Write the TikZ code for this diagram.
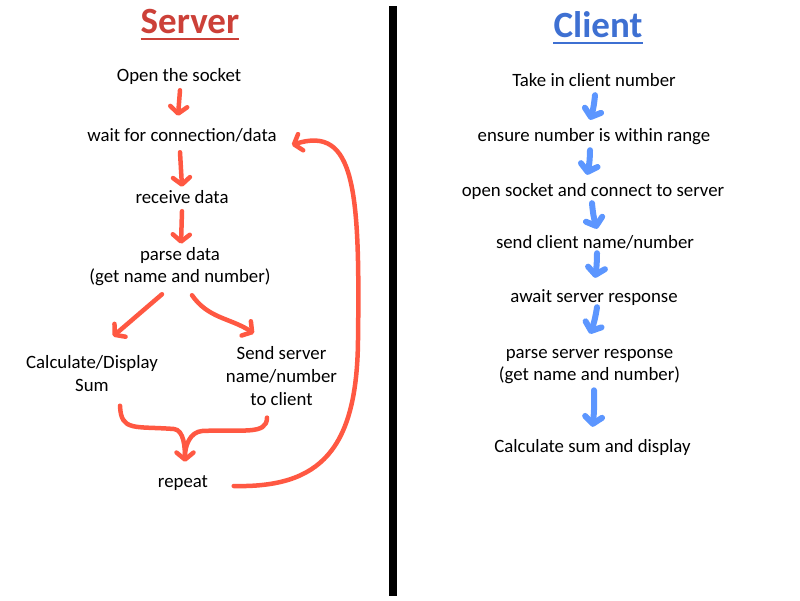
\documentclass[tikz,border=0pt]{standalone}
\usepackage{fontspec}
\setmainfont{Carlito}
\usepackage{tikz}
\usetikzlibrary{arrows.meta}
\usetikzlibrary{positioning}
\definecolor{srvred}{RGB}{204,64,56}
\definecolor{cliblue}{RGB}{62,112,210}
\definecolor{penred}{RGB}{255,88,66}
\definecolor{penblue}{RGB}{92,150,255}

\begin{document}
\begin{tikzpicture}[
            x = 1pt, y = -1pt, % pixel grid of the sheet
            line cap = round,
            line join = round,
            font = \fontsize{18.8}{22.8}\selectfont
        ]

        \tikzstyle{stepnode}=[
            inner sep = 2pt,
            text height = 12pt,
            text depth = 4pt
        ]
        \tikzstyle{multinode}=[
            inner sep = 2pt,
            align = center
        ]
        \tikzstyle{heading}=[
            inner sep = 0pt,
            anchor = base,
            font = \fontsize{37}{44}\selectfont\bfseries
        ]
        \tikzstyle{srvarrow}=[
            draw = penred,
            line width = 4.5pt,
            -{Straight Barb[length=7pt, width=17pt, round]}
        ]
        \tikzstyle{cliarrow}=[
            draw = penblue,
            line width = 6pt,
            -{Straight Barb[length=7pt, width=17pt, round]}
        ]

        \useasboundingbox (0,0) rectangle (800,600);

        % divider
        \draw[line width = 8pt, line cap = butt] (393,6) -- (393,596);

        % headings
        \node[heading, text = srvred] (ST) at (190,33) {Server};
        \draw[srvred, line width = 2.5pt, line cap = butt] ([yshift=-6pt]ST.base west) -- ([yshift=-6pt]ST.base east);
        \node[heading, text = cliblue] (CT) at (598,37) {Client};
        \draw[cliblue, line width = 2.5pt, line cap = butt] ([yshift=-6pt]CT.base west) -- ([yshift=-6pt]CT.base east);

        % server side
        \node[stepnode] (OS) at (179,77) {Open the socket};
        \node[stepnode] (W) [below of = OS, node distance = 60pt, xshift = 3pt] {wait for connection/data};
        \node[stepnode] (R) [below of = W, node distance = 62pt] {receive data};
        \node[multinode] (P) [below of = R, node distance = 67.5pt, xshift = -2pt] {parse data\\(get name and number)};
        \node[multinode] (CD) at (92,373.5) {Calculate/Display\\Sum};
        \node[multinode] (SS) at (281.5,376) {Send server\\name/number\\to client};
        \node[stepnode] (RP) at (183,483) {repeat};
        \coordinate (L) at (358,340);
        \coordinate (J) at (174,429);
        \coordinate (K) at (202,431);

        \draw[srvarrow] ([xshift=1pt,yshift=-3pt]OS.south) -- ([xshift=-4pt,yshift=11pt]W.north);
        \draw[srvarrow] ([xshift=-2pt,yshift=-5pt]W.south) -- ([yshift=2pt]R.north);
        \draw[srvarrow] ([yshift=-2pt]R.south) -- ([xshift=1pt,yshift=1pt]P.north);
        \draw[srvarrow] ([xshift=-18pt,yshift=-6pt]P.south) -- ([xshift=21pt,yshift=17pt]CD.north);
        \draw[srvarrow] ([xshift=12pt,yshift=-7pt]P.south) to[out=-55, in=147] ([xshift=-27.5pt,yshift=11pt]SS.north);
        \draw[srvarrow] ([xshift=28pt,yshift=-12pt]CD.south) .. controls +(1,26) and +(-40,-3) .. (J)
            .. controls +(10,1) and +(0,-14) .. ([xshift=2pt,yshift=11pt]RP.north);
        \draw[srvarrow, -, shorten > = 6pt] ([xshift=-14.5pt,yshift=-10pt]SS.south) .. controls +(0,18) and +(40,-2) .. (K)
            .. controls +(-12,1) and +(0,-16) .. ([xshift=2pt,yshift=11pt]RP.north);
        \draw[srvarrow] ([xshift=23.5pt,yshift=-3pt]RP.east) .. controls (320,488) and (357,450) .. (L)
            .. controls (360,190) and (355,125) .. ([xshift=13pt,yshift=-8pt]W.east);

        % client side
        \node[stepnode] (TC) at (594,82) {Take in client number};
        \node[stepnode] (EN) [below of = TC, node distance = 55pt] {ensure number is within range};
        \node[stepnode] (OC) [below of = EN, node distance = 55pt, xshift = -1pt] {open socket and connect to server};
        \node[stepnode] (SC) [below of = OC, node distance = 52pt, xshift = 2pt] {send client name/number};
        \node[stepnode] (AS) [below of = SC, node distance = 54pt, xshift = -1pt] {await server response};
        \node[multinode] (PS) [below of = AS, node distance = 68.5pt, xshift = -4.5pt] {parse server response\\(get name and number)};
        \node[stepnode] (CS) [below of = PS, node distance = 81.5pt, xshift = 3pt] {Calculate sum and display};

        \draw[cliarrow] ([xshift=1pt,yshift=-3pt]TC.south) to[bend left=6] ([xshift=-4pt,yshift=7pt]EN.north);
        \draw[cliarrow] ([xshift=-4pt,yshift=-3pt]EN.south) to[bend left=6] ([xshift=-6pt,yshift=7pt]OC.north);
        \draw[cliarrow] ([xshift=-1pt,yshift=-1pt]OC.south) to[bend right=6] ([xshift=2pt,yshift=5pt]SC.north);
        \draw[cliarrow] ([xshift=2pt,yshift=1pt]SC.south) to[bend left=4] ([xshift=1pt,yshift=10pt]AS.north);
        \draw[cliarrow] ([xshift=3pt,yshift=1pt]AS.south) to[bend left=6] ([xshift=0.5pt,yshift=13pt]PS.north);
        \draw[cliarrow] ([xshift=4.5pt,yshift=-4pt]PS.south) to[bend left=4] ([yshift=11pt]CS.north);

\end{tikzpicture}
\end{document}
